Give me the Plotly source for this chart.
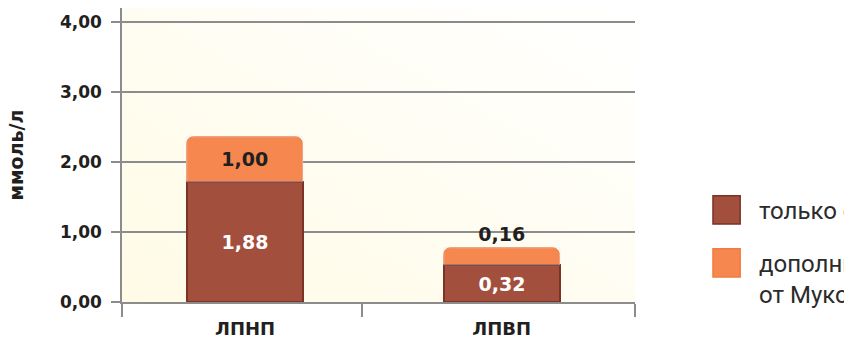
import base64
import numpy as np
import plotly.graph_objects as go

# ---- data ----
categories = ["ЛПНП", "ЛПВП"]
x_pos = [0, 1]
statin_only = [1.71, 0.53]          # drawn height of dark segment
mucofalk_add = [0.65, 0.24]         # drawn height of orange segment
statin_labels = ["1,88", "0,32"]
mucofalk_labels = ["1,00", "0,16"]
y_ticks = [0, 1, 2, 3, 4]
legend_names = ["только статины", "дополнительно<br>от Мукофалька"]

total = list(np.array(statin_only) + np.array(mucofalk_add))

DARK = "#a34f3e"
DARK_LINE = "#7a3325"
ORANGE = "#f5874f"
TXT = "#231f20"
GRID = "#8c8c8c"
BOLD = "DejaVu Sans"

fig = go.Figure()

fig.add_trace(go.Bar(
    x=x_pos, y=total, width=0.453, name=legend_names[1],
    marker=dict(color=ORANGE, cornerradius=8, line=dict(color="#f37a40", width=1)),
    hoverinfo="skip", showlegend=False,
))
fig.add_trace(go.Bar(
    x=x_pos, y=statin_only, width=0.453, name=legend_names[0],
    marker=dict(color=DARK, cornerradius=9, line=dict(color=DARK_LINE, width=2)),
    text=statin_labels, textposition="inside", insidetextanchor="middle",
    textfont=dict(family=BOLD, size=19, color="white", weight="bold"),
    constraintext="none", showlegend=False,
))
fig.add_trace(go.Bar(
    x=x_pos, y=mucofalk_add, base=statin_only, width=0.453,
    marker=dict(color="rgba(0,0,0,0)"),
    text=mucofalk_labels, textposition=["inside", "outside"], insidetextanchor="middle",
    textfont=dict(family=BOLD, size=19, color=TXT, weight="bold"),
    constraintext="none", cliponaxis=False, showlegend=False, hoverinfo="skip",
))

# background gradient for plot area
svg = ('<svg xmlns="http://www.w3.org/2000/svg" width="100" height="100" viewBox="0 0 100 100" '
       'preserveAspectRatio="none"><defs><linearGradient id="g" x1="0" y1="1" x2="1" y2="0">'
       '<stop offset="0" stop-color="#fffbe6"/><stop offset="0.5" stop-color="#fffdf2"/>'
       '<stop offset="1" stop-color="#ffffff"/></linearGradient></defs>'
       '<rect width="100" height="100" fill="url(#g)"/></svg>')
src = "data:image/svg+xml;base64," + base64.b64encode(svg.encode()).decode()

# manual legend
legend_colors = [(DARK, DARK_LINE), (ORANGE, "#f37a40")]
legend_y = [0.313, 0.133]
shapes = []
annotations = []
for (fc, lc), yc, name in zip(legend_colors, legend_y, legend_names):
    shapes.append(dict(type="rect", xref="paper", yref="paper",
                       x0=1.152, x1=1.205, y0=yc - 0.048, y1=yc + 0.048,
                       fillcolor=fc, line=dict(color=lc, width=1.5), layer="above"))
    annotations.append(dict(xref="paper", yref="paper", x=1.238, y=yc + 0.05,
                            xanchor="left", yanchor="top", align="left",
                            text=name, showarrow=False,
                            font=dict(family="Liberation Sans Narrow, Roboto", size=24, color="#2b2b2b")))

fig.update_layout(
    width=844, height=340,
    margin=dict(l=122, r=209, t=8, b=38, autoexpand=False),
    barmode="overlay",
    bargap=0,
    paper_bgcolor="white",
    plot_bgcolor="rgba(0,0,0,0)",
    separators=", ",
    images=[dict(source=src, xref="paper", yref="paper", x=0, y=1, sizex=1, sizey=1,
                 sizing="stretch", layer="below", xanchor="left", yanchor="top")],
    shapes=shapes,
    annotations=annotations,
    showlegend=False,
)

fig.update_yaxes(
    range=[0, 4.2], tickvals=y_ticks, tickformat=".2f",
    automargin=False,
    showgrid=True, gridcolor=GRID, gridwidth=1.5,
    showline=True, linecolor=GRID, linewidth=1.5,
    ticks="outside", ticklen=9, tickcolor=GRID, tickwidth=1.5,
    ticklabelstandoff=6,
    tickfont=dict(family=BOLD, size=17, color=TXT, weight="bold"),
    title=dict(text="ммоль/л", standoff=31,
               font=dict(family=BOLD, size=19, color=TXT, weight="bold")),
    zeroline=False,
)
fig.update_xaxes(
    range=[-0.48, 1.52], tickvals=x_pos, ticktext=categories,
    automargin=False,
    ticks="", showgrid=False,
    showline=True, linecolor=GRID, linewidth=1.5,
    ticklabelstandoff=10,
    tickfont=dict(family=BOLD, size=18, color=TXT, weight="bold"),
    minor=dict(tickvals=[-0.48, 0.456, 1.52], ticks="outside", ticklen=13,
               tickcolor=GRID, tickwidth=1.5, showgrid=False),
    zeroline=False,
)

fig.write_html("out.html")
